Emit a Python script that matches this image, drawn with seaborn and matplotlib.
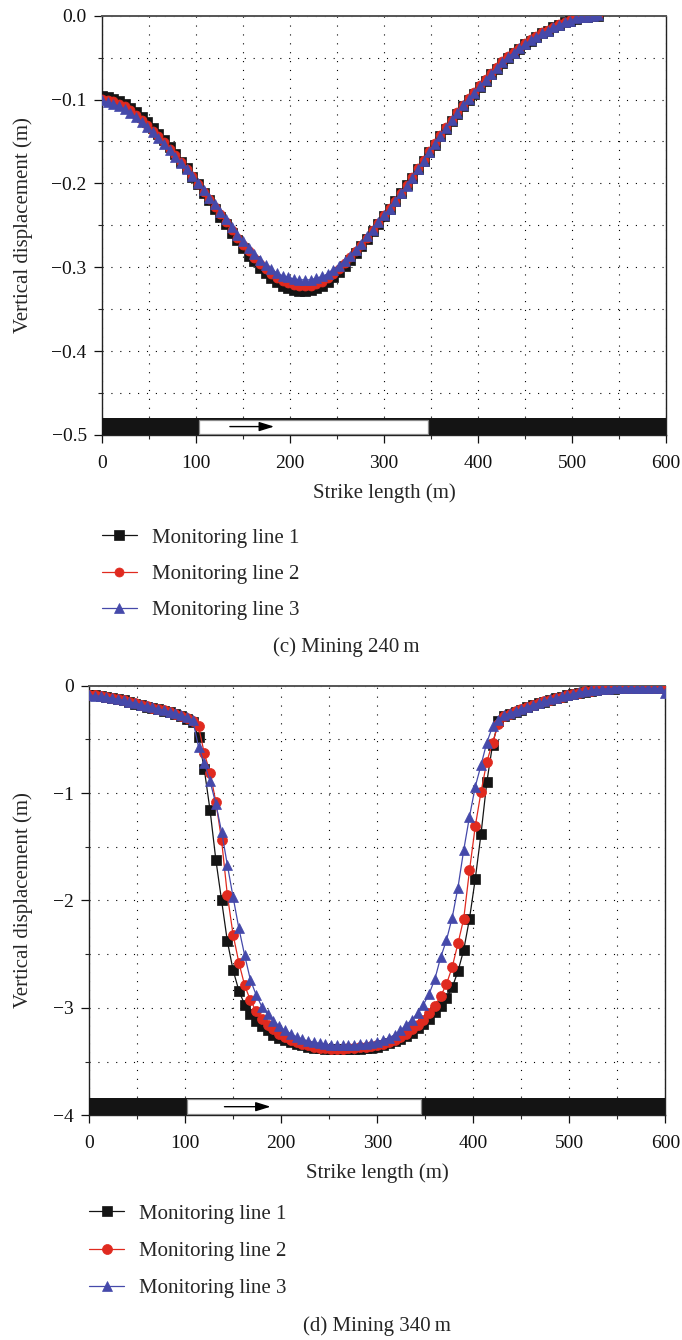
import numpy as np
import pandas as pd
import matplotlib
matplotlib.use("Agg")
import matplotlib.pyplot as plt
import seaborn as sns
from matplotlib.patches import Rectangle
from matplotlib.ticker import MultipleLocator, FuncFormatter
from matplotlib.patches import ArrowStyle

# ---------------- data ----------------
line_names = ["Monitoring line 1", "Monitoring line 2", "Monitoring line 3"]

# (c) Mining 240 m
strike_c = list(range(0, 529, 6))
line1_c = [-0.096, -0.097, -0.099, -0.102, -0.105, -0.110, -0.115, -0.121, -0.127, -0.134,
           -0.141, -0.148, -0.157, -0.165, -0.174, -0.182, -0.192, -0.201, -0.211, -0.220,
           -0.230, -0.240, -0.249, -0.259, -0.268, -0.277, -0.286, -0.293, -0.301, -0.307,
           -0.313, -0.318, -0.322, -0.325, -0.327, -0.328, -0.328, -0.327, -0.325, -0.322,
           -0.318, -0.312, -0.306, -0.299, -0.291, -0.283, -0.275, -0.266, -0.257, -0.248,
           -0.239, -0.230, -0.221, -0.211, -0.202, -0.193, -0.183, -0.173, -0.163, -0.154,
           -0.144, -0.135, -0.126, -0.117, -0.108, -0.100, -0.093, -0.085, -0.078, -0.070,
           -0.063, -0.056, -0.050, -0.045, -0.040, -0.034, -0.030, -0.025, -0.021, -0.018,
           -0.014, -0.011, -0.008, -0.006, -0.004, -0.002, -0.001, 0.000, 0.000]
line2_c = [-0.099, -0.100, -0.102, -0.105, -0.108, -0.113, -0.118, -0.124, -0.130, -0.137,
           -0.144, -0.151, -0.159, -0.166, -0.174, -0.183, -0.191, -0.201, -0.210, -0.219,
           -0.228, -0.237, -0.246, -0.256, -0.265, -0.273, -0.281, -0.289, -0.296, -0.302,
           -0.308, -0.313, -0.316, -0.319, -0.321, -0.322, -0.322, -0.322, -0.320, -0.317,
           -0.313, -0.308, -0.302, -0.295, -0.288, -0.281, -0.273, -0.265, -0.256, -0.247,
           -0.238, -0.229, -0.221, -0.211, -0.202, -0.192, -0.182, -0.172, -0.161, -0.152,
           -0.142, -0.133, -0.124, -0.115, -0.106, -0.098, -0.091, -0.083, -0.076, -0.068,
           -0.061, -0.054, -0.048, -0.043, -0.038, -0.033, -0.028, -0.024, -0.020, -0.017,
           -0.013, -0.010, -0.007, -0.005, -0.003, -0.002, -0.001, 0.000, 0.001]
line3_c = [-0.101, -0.103, -0.105, -0.108, -0.111, -0.116, -0.121, -0.127, -0.133, -0.139,
           -0.146, -0.153, -0.160, -0.168, -0.176, -0.183, -0.191, -0.200, -0.208, -0.217,
           -0.225, -0.234, -0.243, -0.252, -0.261, -0.269, -0.277, -0.284, -0.291, -0.297,
           -0.302, -0.307, -0.310, -0.312, -0.314, -0.315, -0.315, -0.315, -0.313, -0.311,
           -0.308, -0.303, -0.298, -0.292, -0.286, -0.279, -0.272, -0.263, -0.255, -0.246,
           -0.238, -0.230, -0.221, -0.212, -0.203, -0.193, -0.183, -0.173, -0.162, -0.153,
           -0.143, -0.134, -0.125, -0.116, -0.107, -0.099, -0.092, -0.084, -0.077, -0.069,
           -0.062, -0.055, -0.049, -0.044, -0.039, -0.034, -0.029, -0.025, -0.021, -0.018,
           -0.014, -0.011, -0.008, -0.006, -0.003, -0.002, -0.001, 0.000, 0.001]

# (d) Mining 340 m
strike_d = list(range(0, 601, 6))
line1_d = [-0.085, -0.090, -0.097, -0.105, -0.115, -0.126, -0.138, -0.151, -0.166, -0.181,
           -0.194, -0.207, -0.220, -0.233, -0.248, -0.264, -0.283, -0.306, -0.340, -0.480,
           -0.780, -1.160, -1.620, -2.000, -2.380, -2.650, -2.840, -2.970, -3.060, -3.120,
           -3.170, -3.210, -3.250, -3.280, -3.300, -3.320, -3.340, -3.350, -3.360, -3.370,
           -3.375, -3.380, -3.380, -3.380, -3.380, -3.380, -3.380, -3.380, -3.375, -3.370,
           -3.360, -3.350, -3.330, -3.310, -3.290, -3.260, -3.230, -3.190, -3.150, -3.100,
           -3.040, -2.980, -2.910, -2.810, -2.660, -2.460, -2.170, -1.800, -1.380, -0.900,
           -0.550, -0.330, -0.285, -0.262, -0.242, -0.222, -0.203, -0.184, -0.165, -0.148,
           -0.133, -0.118, -0.103, -0.090, -0.077, -0.065, -0.055, -0.047, -0.040, -0.034,
           -0.030, -0.027, -0.025, -0.024, -0.023, -0.023, -0.023, -0.024, -0.024, -0.025,
           -0.026]
line2_d = [-0.083, -0.088, -0.095, -0.103, -0.113, -0.124, -0.136, -0.149, -0.164, -0.179,
           -0.192, -0.205, -0.218, -0.231, -0.246, -0.262, -0.280, -0.302, -0.330, -0.380,
           -0.630, -0.810, -1.080, -1.440, -1.950, -2.320, -2.580, -2.790, -2.930, -3.030,
           -3.100, -3.160, -3.200, -3.240, -3.270, -3.300, -3.320, -3.340, -3.350, -3.360,
           -3.370, -3.375, -3.380, -3.380, -3.380, -3.375, -3.370, -3.365, -3.360, -3.355,
           -3.350, -3.340, -3.320, -3.300, -3.270, -3.240, -3.200, -3.160, -3.110, -3.050,
           -2.980, -2.890, -2.780, -2.620, -2.400, -2.170, -1.720, -1.310, -0.990, -0.710,
           -0.530, -0.360, -0.280, -0.260, -0.240, -0.220, -0.201, -0.182, -0.164, -0.147,
           -0.132, -0.117, -0.102, -0.089, -0.076, -0.064, -0.054, -0.046, -0.039, -0.033,
           -0.029, -0.026, -0.024, -0.023, -0.022, -0.022, -0.022, -0.023, -0.023, -0.024,
           -0.025]
line3_d = [-0.088, -0.092, -0.098, -0.106, -0.115, -0.125, -0.136, -0.148, -0.162, -0.176,
           -0.189, -0.202, -0.215, -0.228, -0.242, -0.257, -0.274, -0.295, -0.320, -0.570,
           -0.720, -0.890, -1.100, -1.360, -1.670, -1.970, -2.260, -2.510, -2.740, -2.880,
           -2.990, -3.060, -3.120, -3.170, -3.210, -3.240, -3.270, -3.290, -3.310, -3.320,
           -3.330, -3.340, -3.345, -3.350, -3.350, -3.350, -3.345, -3.340, -3.335, -3.325,
           -3.315, -3.300, -3.280, -3.250, -3.210, -3.160, -3.110, -3.050, -2.970, -2.870,
           -2.730, -2.530, -2.370, -2.160, -1.880, -1.530, -1.220, -0.940, -0.740, -0.530,
           -0.380, -0.320, -0.275, -0.255, -0.236, -0.216, -0.197, -0.178, -0.160, -0.143,
           -0.128, -0.113, -0.099, -0.086, -0.074, -0.062, -0.052, -0.044, -0.037, -0.032,
           -0.028, -0.025, -0.023, -0.022, -0.022, -0.022, -0.023, -0.024, -0.025, -0.026,
           -0.070]

# mined (goaf) extent and advance arrow along strike, per panel
goaf_c = (103, 347)
advance_c = (136, 183)
goaf_d = (102, 346)
advance_d = (141, 189)

x_label = "Strike length (m)"
y_label = "Vertical displacement (m)"
caption_c = "(c) Mining 240\u2009m"
caption_d = "(d) Mining 340\u2009m"

# ---------------- style ----------------
sns.set_style("ticks")
SERIF = ["Liberation Serif", "DejaVu Serif"]
plt.rcParams["font.family"] = SERIF
plt.rcParams["axes.unicode_minus"] = True

palette = {line_names[0]: "#141414", line_names[1]: "#E02A1F", line_names[2]: "#4549AA"}
markers = {line_names[0]: "s", line_names[1]: "o", line_names[2]: "^"}

fig = plt.figure(figsize=(6.82, 13.4), dpi=100)
ax1 = fig.add_axes([0.1496, 0.6754, 0.8270, 0.3129])
ax2 = fig.add_axes([0.1305, 0.1677, 0.8453, 0.3206])


def fmt_factory(dec):
    def f(v, pos):
        if abs(v) < 1e-9:
            v = 0.0
        s = f"{v:.{dec}f}"
        return s.replace("-", "\u2212")
    return FuncFormatter(f)


def draw_panel(ax, x, ys, ylim, ymaj, ymin, dec, goaf, advance, ms):
    frames = [pd.DataFrame({"Strike": x, "Disp": y, "Line": n})
              for n, y in zip(line_names, ys)]
    df = pd.concat(frames, ignore_index=True)
    sns.lineplot(data=df, x="Strike", y="Disp", hue="Line", style="Line",
                 hue_order=line_names, style_order=line_names,
                 palette=palette, markers=markers, dashes=False,
                 estimator=None, sort=False, ax=ax, lw=0.9,
                 markersize=ms, markeredgewidth=0.5, zorder=4)
    lines = list(ax.lines[:3])
    for ln in lines:
        ln.set_markeredgecolor(ln.get_color())
    if ax.get_legend() is not None:
        ax.get_legend().remove()

    ax.set_xlim(0, 600)
    ax.set_ylim(*ylim)
    ax.xaxis.set_major_locator(MultipleLocator(100))
    ax.xaxis.set_minor_locator(MultipleLocator(50))
    ax.yaxis.set_major_locator(MultipleLocator(ymaj))
    ax.yaxis.set_minor_locator(MultipleLocator(ymin))
    ax.yaxis.set_major_formatter(fmt_factory(dec))
    ax.xaxis.set_major_formatter(FuncFormatter(lambda v, p: f"{v:.0f}"))

    ax.set_axisbelow(True)
    ax.grid(True, which="both", color="black", linestyle=(0, (1, 7)), linewidth=0.8)

    ax.tick_params(which="major", direction="out", length=6, width=0.9,
                   labelsize=14, colors="#111111")
    ax.tick_params(axis="x", which="major", pad=8.5)
    ax.tick_params(axis="y", which="major", pad=5)
    ax.tick_params(which="minor", direction="out", length=3, width=0.8)
    for side in ["left", "bottom", "right"]:
        ax.spines[side].set_color("#222222")
        ax.spines[side].set_linewidth(1.0)
    ax.spines["top"].set_color("#555555")
    ax.spines["top"].set_linewidth(1.4)

    ax.set_xlabel(x_label, fontsize=15, labelpad=8)
    ax.set_ylabel(y_label, fontsize=15)

    # mining panel bar along the bottom of the axes
    span = ylim[1] - ylim[0]
    bar_h = 0.04 * span
    ax.add_patch(Rectangle((0, ylim[0]), 600, bar_h, facecolor="#141414",
                           edgecolor="none", zorder=5, clip_on=False))
    ax.add_patch(Rectangle((goaf[0], ylim[0] + 0.08 * bar_h), goaf[1] - goaf[0],
                           0.84 * bar_h, facecolor="white", edgecolor="#8a8a8a",
                           linewidth=0.9, zorder=6))
    ymid = ylim[0] + 0.5 * bar_h
    ax.annotate("", xy=(advance[1], ymid), xytext=(advance[0], ymid),
                arrowprops=dict(arrowstyle=ArrowStyle("-|>", head_length=0.9, head_width=0.28),
                                color="black", lw=1.0, mutation_scale=10,
                                shrinkA=0, shrinkB=0),
                zorder=7)
    return lines


lines_c = draw_panel(ax1, strike_c, [line1_c, line2_c, line3_c], (-0.5, 0.0), 0.1, 0.05, 1,
                     goaf_c, advance_c, 6.5)
lines_d = draw_panel(ax2, strike_d, [line1_d, line2_d, line3_d], (-4.0, 0.0), 1, 0.5, 0,
                     goaf_d, advance_d, 7.2)

ax1.yaxis.set_label_coords(-0.122, 0.5)
ax2.yaxis.set_label_coords(-0.097, 0.5)

leg_kw = dict(loc="upper left", frameon=False, fontsize=15, handlelength=1.7,
              handletextpad=0.7, borderpad=0, borderaxespad=0, numpoints=1)
fig.legend(lines_c, line_names, bbox_to_anchor=(101.7 / 682, 1 - 528 / 1340),
           labelspacing=0.8, **leg_kw)
fig.legend(lines_d, line_names, bbox_to_anchor=(89.0 / 682, 1 - 1204 / 1340),
           labelspacing=0.85, **leg_kw)

fig.text(346 / 682, 1 - 647 / 1340, caption_c, ha="center", va="center", fontsize=15,
         family=SERIF)
fig.text(377 / 682, 1 - 1326 / 1340, caption_d, ha="center", va="center", fontsize=15,
         family=SERIF)

fig.savefig("out.png", dpi=100)
